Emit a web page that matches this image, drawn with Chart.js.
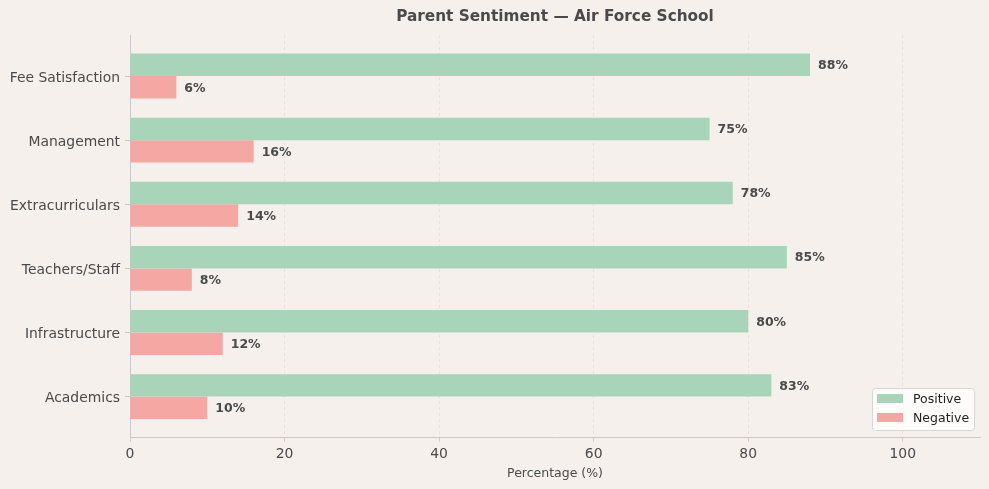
<!DOCTYPE html>
<html>
<head>
<meta charset="utf-8">
<script src="https://cdn.jsdelivr.net/npm/chart.js@4/dist/chart.umd.min.js"></script>
<style>
  html, body { margin: 0; padding: 0; background: #f5f0eb; }
  #wrap { width: 989px; height: 489px; }
</style>
</head>
<body>
<div id="wrap"><canvas id="chart"></canvas></div>
<script>
// data
const categories = ['Fee Satisfaction', 'Management', 'Extracurriculars', 'Teachers/Staff', 'Infrastructure', 'Academics'];
const positive = [88, 75, 78, 85, 80, 83];
const negative = [6, 16, 14, 8, 12, 10];
const xTicks = [0, 20, 40, 60, 80, 100];

const textColor = '#4a4a4a';
const font = 'DejaVu Sans';

// y as linear index so the bands sit like the original
function toPoints(values) {
  return values.map(function (v, i) { return { x: v, y: i }; });
}

const labelPlugin = {
  id: 'labels',
  afterDatasetsDraw: function (chart) {
    const ctx = chart.ctx;
    ctx.save();
    ctx.font = 'bold 12.5px "' + font + '"';
    ctx.fillStyle = textColor;
    ctx.textBaseline = 'middle';
    chart.data.datasets.forEach(function (ds, di) {
      chart.getDatasetMeta(di).data.forEach(function (bar, i) {
        ctx.fillText(ds.data[i].x + '%', bar.x + 8, bar.y + 1);
      });
    });
    ctx.restore();
  },
  afterDraw: function (chart) {
    const ctx = chart.ctx;
    const area = chart.chartArea;
    ctx.save();
    // title
    ctx.font = 'bold 15.3px "' + font + '"';
    ctx.fillStyle = textColor;
    ctx.textAlign = 'center';
    ctx.textBaseline = 'middle';
    ctx.fillText('Parent Sentiment — Air Force School', (area.left + area.right) / 2, 17);

    // legend box
    const bx = 872, by = 388, bw = 102, bh = 42;
    ctx.fillStyle = 'rgba(255,255,255,0.8)';
    ctx.strokeStyle = '#d6d6d6';
    ctx.lineWidth = 1;
    ctx.beginPath();
    ctx.roundRect(bx + 0.5, by + 0.5, bw, bh, 3);
    ctx.fill();
    ctx.stroke();
    ctx.textAlign = 'left';
    ctx.font = '12.5px "' + font + '"';
    chart.data.datasets.forEach(function (ds, i) {
      const y = by + 11 + i * 19;
      ctx.fillStyle = ds.backgroundColor;
      ctx.fillRect(bx + 5, y - 5, 26, 9);
      ctx.fillStyle = '#222';
      ctx.fillText(ds.label, bx + 41, y + 1);
    });
    ctx.restore();
  }
};

new Chart(document.getElementById('chart'), {
  type: 'bar',
  data: {
    datasets: [
      { label: 'Positive', data: toPoints(positive), backgroundColor: '#a8d5ba' },
      { label: 'Negative', data: toPoints(negative), backgroundColor: '#f5a8a3' }
    ]
  },
  options: {
    indexAxis: 'y',
    responsive: true,
    maintainAspectRatio: false,
    animation: false,
    categoryPercentage: 0.7,
    barPercentage: 1.0,
    layout: { padding: { top: 35, right: 9, left: 0, bottom: 0 } },
    plugins: {
      legend: { display: false },
      title: { display: false },
      tooltip: { enabled: false }
    },
    scales: {
      x: {
        type: 'linear',
        min: 0,
        max: 110,
        afterBuildTicks: function (scale) {
          scale.ticks = xTicks.map(function (v) { return { value: v }; });
        },
        afterFit: function (scale) { scale.height = 52; },
        grid: {
          color: '#e2ded9',
          lineWidth: 0.8,
          tickColor: '#c8c8c8',
          tickLength: 5,
          tickBorderDash: []
        },
        border: { display: true, color: '#c8c8c8', width: 1, dash: [3, 3] },
        ticks: { color: textColor, font: { family: font, size: 13.9 }, padding: 4 },
        title: {
          display: true,
          text: 'Percentage (%)',
          color: textColor,
          font: { family: font, size: 12.5 },
          padding: { top: 1, bottom: 8 }
        }
      },
      y: {
        type: 'linear',
        reverse: true,
        offset: false,
        min: -0.64,
        max: 5.63,
        afterBuildTicks: function (scale) {
          scale.ticks = categories.map(function (_, i) { return { value: i }; });
        },
        afterFit: function (scale) { scale.width = 130; },
        grid: {
          offset: false,
          drawOnChartArea: false,
          drawTicks: true,
          tickLength: 5,
          tickColor: '#c8c8c8'
        },
        border: { display: true, color: '#c8c8c8', width: 1 },
        ticks: {
          color: textColor,
          font: { family: font, size: 13.9 },
          padding: 5,
          labelOffset: 2,
          callback: function (v) { return categories[v]; }
        }
      }
    }
  },
  plugins: [labelPlugin]
});
</script>
</body>
</html>
